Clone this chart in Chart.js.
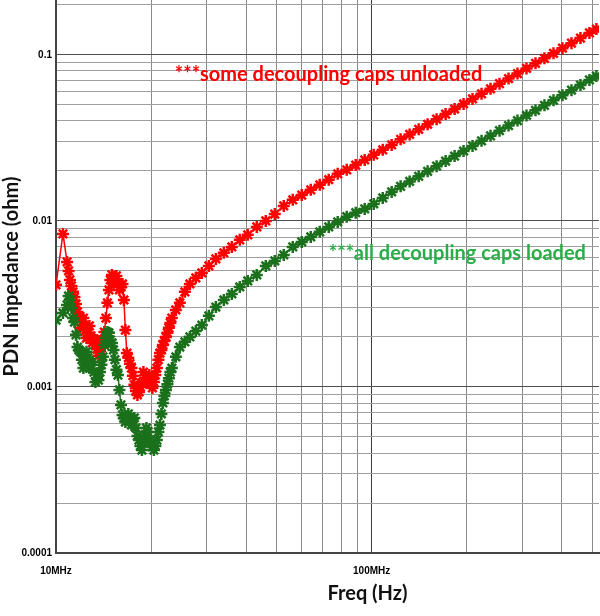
<!DOCTYPE html>
<html>
<head>
<meta charset="utf-8">
<script src="https://cdn.jsdelivr.net/npm/chart.js@4.4.0/dist/chart.umd.min.js"></script>
<style>
    html, body { margin: 0; padding: 0; background: #fff; }
    canvas { display: block; }
</style>
</head>
<body>
<canvas id="pdnChart" width="600" height="616"></canvas>
<script>
// Sweep frequencies in MHz (dense around the 10-25MHz resonances)
const freqMHz = [
    10.0, 10.52, 10.84, 10.96, 11.07, 11.19, 11.32, 11.44, 11.57, 11.70,
    11.82, 11.95, 12.08, 12.21, 12.35, 12.49, 12.62, 12.76, 12.90, 13.04,
    13.19, 13.33, 13.48, 13.63, 13.78, 13.93, 14.08, 14.23, 14.39, 14.55,
    14.71, 14.87, 15.04, 15.21, 15.37, 15.54, 15.71, 15.88, 16.06, 16.24,
    16.41, 16.59, 16.77, 16.95, 17.15, 17.34, 17.52, 17.71, 17.91, 18.11,
    18.31, 18.51, 18.71, 18.92, 19.13, 19.34, 19.55, 19.76, 19.98, 20.20,
    20.42, 20.64, 20.87, 21.10, 21.34, 21.57, 21.81, 22.05, 22.29, 22.54,
    22.78, 23.03, 23.28,
    23.97, 24.68, 25.60, 26.55, 27.73, 28.97, 30.49, 32.09, 34.01, 36.05, 38.21, 40.50,
    43.26, 46.19, 49.32, 52.66, 56.23, 60.05, 64.12, 68.47, 73.11, 78.06,
    83.36, 89.01, 95.04, 101.5, 108.4, 115.7, 123.5, 131.9, 140.9, 150.4,
    160.6, 171.5, 183.1, 195.5, 208.7, 222.9, 238.0, 254.1, 271.4, 289.7,
    309.4, 330.4, 352.7, 376.7, 402.2, 429.5, 458.6, 489.6, 515.2
];

// PDN impedance (ohm), some decoupling caps unloaded
const zUnloaded = [
    0.00412, 0.00835, 0.00566, 0.00500, 0.00441, 0.00406, 0.00374, 0.00348, 0.00316, 0.00283,
    0.00268, 0.00227, 0.00246, 0.00260, 0.00230, 0.00197, 0.00212, 0.00233, 0.00203, 0.00184,
    0.00195, 0.00192, 0.00169, 0.00154, 0.00167, 0.00172, 0.00192, 0.00214, 0.00260, 0.00321,
    0.00384, 0.00441, 0.00473, 0.00417, 0.00447, 0.00466, 0.00423, 0.00384, 0.00400, 0.00417,
    0.00334, 0.00220, 0.00160, 0.00150, 0.00138, 0.00130, 0.00117, 0.00103, 0.000946, 0.000895,
    0.000933, 0.00100, 0.00106, 0.00123, 0.00113, 0.00106, 0.00113, 0.00118, 0.00107, 0.000986,
    0.00107, 0.00118, 0.00130, 0.00146, 0.00160, 0.00167, 0.00179, 0.00189, 0.00200, 0.00212,
    0.00227, 0.00243, 0.00260,
    0.00291, 0.00321, 0.00374, 0.00417, 0.00454, 0.00486, 0.00536, 0.00590, 0.00642, 0.00697, 0.00769, 0.00824,
    0.00920, 0.0100, 0.0110, 0.0123, 0.0134, 0.0143, 0.0154, 0.0165, 0.0177, 0.0192,
    0.0203, 0.0217, 0.0233, 0.0250, 0.0268, 0.0287, 0.0310, 0.0332, 0.0356, 0.0382,
    0.0410, 0.0440, 0.0472, 0.0506, 0.0543, 0.0583, 0.0625, 0.0671, 0.0720, 0.0772,
    0.0828, 0.0889, 0.0953, 0.1022, 0.1097, 0.1176, 0.1262, 0.1355, 0.1430
];

// PDN impedance (ohm), all decoupling caps loaded
const zLoaded = [
    0.00253, 0.00279, 0.00312, 0.00353, 0.00334, 0.00299, 0.00260, 0.00246, 0.00206, 0.00174,
    0.00167, 0.00163, 0.00146, 0.00130, 0.00146, 0.00163, 0.00150, 0.00130, 0.00136, 0.00142,
    0.00123, 0.00107, 0.00113, 0.00110, 0.00123, 0.00136, 0.00152, 0.00179, 0.00197, 0.00214,
    0.00212, 0.00192, 0.00184, 0.00167, 0.00146, 0.00127, 0.00118, 0.000959, 0.000779, 0.000678,
    0.000651, 0.000615, 0.000632, 0.000688, 0.000651, 0.000590, 0.000642, 0.000651, 0.000566, 0.000507,
    0.000479, 0.000441, 0.000417, 0.000466, 0.000514, 0.000566, 0.000536, 0.000479, 0.000460, 0.000435,
    0.000417, 0.000441, 0.000479, 0.000536, 0.000590, 0.000688, 0.000801, 0.000883, 0.000959, 0.00104,
    0.00113, 0.00123, 0.00130,
    0.00152, 0.00174, 0.00187, 0.00200, 0.00217, 0.00236, 0.00268, 0.00303, 0.00334, 0.00363, 0.00400, 0.00435,
    0.00473, 0.00536, 0.00574, 0.00624, 0.00697, 0.00747, 0.00801, 0.00859, 0.00920, 0.00986,
    0.0106, 0.0112, 0.0118, 0.01265, 0.01376, 0.01495, 0.01615, 0.01730, 0.01855, 0.01990,
    0.02136, 0.02292, 0.02459, 0.02636, 0.02829, 0.03037, 0.03256, 0.03496, 0.03751, 0.04022,
    0.04314, 0.04632, 0.04965, 0.05325, 0.05715, 0.06127, 0.06575, 0.07060, 0.0745
];

// Grid lines and tick labels
const xGridMHz = [10, 20, 30, 40, 50, 60, 70, 80, 90, 100, 200, 300, 400, 500];
const yGridOhm = [
    0.0001, 0.0002, 0.0003, 0.0004, 0.0005, 0.0006, 0.0007, 0.0008, 0.0009,
    0.001, 0.002, 0.003, 0.004, 0.005, 0.006, 0.007, 0.008, 0.009,
    0.01, 0.02, 0.03, 0.04, 0.05, 0.06, 0.07, 0.08, 0.09,
    0.1, 0.2
];
const xLabelValues = [10, 100];
const xLabelText = ['10MHz', '100MHz'];
const yLabelValues = [0.0001, 0.001, 0.01, 0.1];
const yLabelText = ['0.0001', '0.001', '0.01', '0.1'];

const xRange = [10, 525];
const yRange = [0.0001, 0.214];

// Annotations placed in data units
const notes = [
    { text: '***some decoupling caps unloaded', freq: 23.8, z: 0.0758, color: '#ff0000' },
    { text: '***all decoupling caps loaded', freq: 73.1, z: 0.00633, color: '#2bae48' }
];

const titleFont = { family: 'Lato', weight: 'bold', size: 20 };
const tickFont = { family: 'Liberation Sans', weight: 'bold', size: 10 };

// Draws the annotation texts and the x axis title
const notesPlugin = {
    id: 'notes',
    afterDatasetsDraw(chart) {
        const { ctx, scales: { x, y } } = chart;
        ctx.save();
        ctx.font = 'bold 20px Lato';
        ctx.textBaseline = 'middle';
        ctx.textAlign = 'left';
        notes.forEach(n => {
            ctx.fillStyle = n.color;
            ctx.fillText(n.text, x.getPixelForValue(n.freq), y.getPixelForValue(n.z));
        });
        ctx.font = `bold ${titleFont.size}px ${titleFont.family}`;
        ctx.fillStyle = '#111';
        ctx.textAlign = 'center';
        ctx.fillText('Freq (Hz)', x.getPixelForValue(97), chart.height - 22);
        ctx.restore();
    }
};

const toPoints = (values) => freqMHz.map((f, i) => ({ x: f, y: values[i] }));

const seriesStyle = (color) => ({
    borderColor: color,
    backgroundColor: color,
    borderWidth: 1.5,
    pointStyle: 'star',
    pointRadius: 6,
    pointBorderWidth: 2.5,
    pointBorderColor: color,
    pointHoverRadius: 6,
    tension: 0,
    fill: false
});

new Chart(document.getElementById('pdnChart').getContext('2d'), {
    type: 'line',
    data: {
        datasets: [
            { label: 'all decoupling caps loaded', data: toPoints(zLoaded), ...seriesStyle('#1b701b') },
            { label: 'some decoupling caps unloaded', data: toPoints(zUnloaded), ...seriesStyle('#ff0000') }
        ]
    },
    options: {
        responsive: false,
        animation: false,
        devicePixelRatio: 1,
        layout: { autoPadding: false, padding: { left: 0, right: 1, top: 0, bottom: 0 } },
        plugins: {
            legend: { display: false },
            tooltip: { enabled: false }
        },
        scales: {
            x: {
                type: 'logarithmic',
                min: xRange[0],
                max: xRange[1],
                afterBuildTicks: (scale) => { scale.ticks = xGridMHz.map(v => ({ value: v })); },
                afterFit: (scale) => {
                    scale.height = 63;
                    scale.paddingLeft = 0;
                    scale.paddingRight = 0;
                },
                ticks: {
                    autoSkip: false,
                    maxRotation: 0,
                    padding: 12,
                    color: '#000',
                    font: tickFont,
                    callback: (value) => {
                        const i = xLabelValues.indexOf(value);
                        return i >= 0 ? xLabelText[i] : '';
                    }
                },
                grid: {
                    drawTicks: false,
                    lineWidth: 1,
                    color: (ctx) => (ctx.tick && xLabelValues.includes(ctx.tick.value)) ? '#3c3c3c' : '#8a8a8a'
                },
                border: { color: '#444', width: 2 }
            },
            y: {
                type: 'logarithmic',
                min: yRange[0],
                max: yRange[1],
                afterBuildTicks: (scale) => { scale.ticks = yGridOhm.map(v => ({ value: v })); },
                afterFit: (scale) => {
                    scale.width = 56;
                    scale.paddingTop = 0;
                    scale.paddingBottom = 0;
                },
                ticks: {
                    autoSkip: false,
                    padding: 4,
                    color: '#000',
                    font: tickFont,
                    callback: (value) => {
                        const i = yLabelValues.indexOf(value);
                        return i >= 0 ? yLabelText[i] : '';
                    }
                },
                grid: {
                    drawTicks: false,
                    lineWidth: 1,
                    color: (ctx) => (ctx.tick && yLabelValues.includes(ctx.tick.value)) ? '#505050' : '#a0a0a0'
                },
                border: { color: '#444', width: 2 },
                title: {
                    display: true,
                    text: 'PDN Impedance (ohm)',
                    color: '#111',
                    font: titleFont,
                    padding: { top: 0, bottom: 0 }
                }
            }
        }
    },
    plugins: [notesPlugin]
});
</script>
</body>
</html>
